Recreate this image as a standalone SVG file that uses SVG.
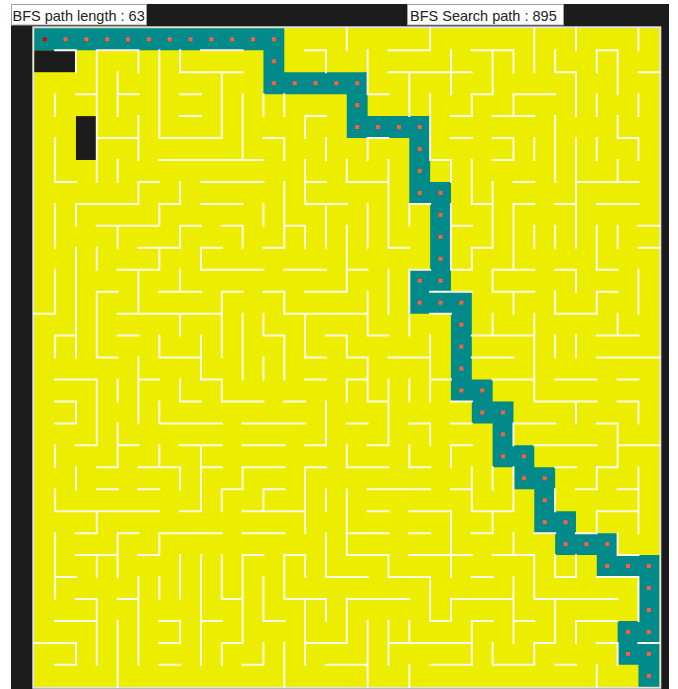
<svg xmlns="http://www.w3.org/2000/svg" width="678" height="689" viewBox="0 0 678 689">
<style>
.lbl{font-family:"Liberation Sans",Arial,sans-serif;font-size:14.5px;fill:#222}
.box{fill:#fff;stroke:#a0a0a0;stroke-width:1}
.wall{fill:none;stroke:#fffbe8;stroke-width:2;vector-effect:non-scaling-stroke;stroke-linecap:square}
.blk{fill:#1c1c1c}
.dot{fill:#ff5f3f}
</style>
<defs><rect id="d" x="0.404" y="0.409" width="0.192" height="0.182"/></defs>
<rect width="678" height="689" fill="#fff"/>
<rect x="11" y="4" width="658" height="685" class="blk"/>
<rect x="33.3" y="27.3" width="627" height="660.5" fill="#eded00" stroke="#e2e2e2" stroke-width="2"/>
<g id="maze" transform="translate(34.3 28.3) scale(20.833 21.95)">
<g id="blocks">
<rect x="0" y="1" width="2" height="1" class="blk"/>
<rect x="2" y="4" width="1" height="2" class="blk"/>
</g>
<path id="route" d="M0.5 0.5H11.5V2.5H15.5V4.5H18.5V7.5H19.5V11.5H18.5V12.5H20.5V16.5H21.5V17.5H22.5V19.5H23.5V20.5H24.5V22.5H25.5V23.5H27.5V24.5H29.5V27.5H28.5V28.5H29.5V29.5" fill="none" stroke="#008a8a" stroke-width="1" stroke-linecap="square" stroke-linejoin="miter"/>
<g id="walls">
<path class="wall" d="M1 1H2M2 1V2M3 1H5M3 1V7M5 1V2M6 1V5M4 2V4M2 3H3M4 3H5M1 3V4M5 4V6M3 5H5M6 5H9M1 5V7M1 7H2M4 6V7M6 6H11M5 7H6M5 7V8M2 8H5M2 8V9M6 8H7M6 8V9M1 8V10M3 9H6M4 9V10
M8 1H10M7 1V2M7 2H10M9 2V5M7 3H8M7 4H8M10 3V6M11 3V4M12 3V4M14 1V2M13 1H14M13 4V5M13 4H14M11 5H12M12 5V6M14 5V6M13 6V8M13 7H14M13 8H15M8 7H11M7 7V8M8 8H10M12 7V10M11 8V9M14 8V10M7 9H8M7 9V10M9 9H10M10 9V10M12 9H13M13 9V10
M15 0V1M19 0V1M17 1H19M16 1V3M16 3H17M17 2H21M18 2V4M20 1V3M21 1H22M22 1V3M19 3V6M19 6H20M20 6V7M20 4H21M21 3V4M21 3H22M22 4H24M16 5H17M16 5V6M20 5H21M22 5H23M15 6V7M15 7H17M17 6V10M21 6V8M22 6H23M22 7V10M16 8V10M18 8H19M18 8V9M21 8H22M20 9H21M20 8V11M21 10H22M21 10V11M20 11H21
M24 0V2M26 0V1M29 0V1M22 1H23M23 1V2M25 1V2M25 2H26M26 2V4M27 1H28M27 1V2M28 1V3M29 2H30M23 3H25M23 3V4M27 3V4M29 3V4M25 4V7M28 4V5M28 5H29M29 5V6M23 5V6M24 5V6M26 5V7M27 5V6M23 7H24M26 7H29M28 6V7M23 8H24M23 8V11M25 8H26M26 7V10M27 8H29M24 9V10M25 9V10M28 9V10M29 9H30M27 9V11
M2 10V15M3 10V11M5 10H7M6 10V11M4 11H6M5 11V13M4 13H6M1 11V13M0 13H1M3 12H4M3 12V15M3 15H4M6 12H8M1 14H2M1 14V15M4 14H5M6 14V15M6 15H8M5 15V18M5 16H6M1 16H3M3 16V19M2 19H3M4 16V17M1 17H2M2 17V18M1 18H2M6 17V18M6 18H9M4 18V20M4 19H5M1 19V20M6 19V20
M11 10H12M8 10H9M8 10V11M8 11H11M12 11H14M7 11V12M9 12H10M9 12V15M11 12H12M12 12V13M12 13H16M13 12H15M6 13H9M7 13V14M10 13V16M11 13V14M11 14H12M12 14V16M13 13V15M13 15H14M14 14H15M8 14V16M8 16H9M9 16V17M9 17H11M11 15V16M7 16V17M7 17H8M13 16H14M12 17H13M14 17V19M13 19H14M10 18H13M7 19H9M8 19V22M10 19H12
M15 9V12M17 10H18M15 11H16M17 11V13M18 11H19M18 11V14M19 12H21M22 11V12M22 11H24M16 12V14M16 14H17M22 13V14M19 13H20M15 14V15M15 15H16M19 14V17M21 14H24M17 15H19M16 15V17M21 15H23M15 16H16M15 16V17M17 16V19M18 16V17M19 16H20M16 17H17M20 17H21M15 18H16M18 18H19M19 18V19M20 18H21M16 19H17M15 19V20M18 19V20M20 19H21M20 19V20
M27 11H28M29 10H30M25 11H26M26 11V12M29 11V13M22 12H24M23 12V13M25 12V13M25 13H27M27 12V13M27 12H28M24 13V17M24 17H27M28 13V14M27 14H29M25 14V15M26 14V15M27 15H30M22 16H24M25 16H27M28 16H29M26 17V18M28 17H29M29 17V18M23 18H25M23 18V19M27 18H28M28 18V20M24 19H27M28 19H30
M3 20H4M5 20H7M2 20V21M3 21H4M5 21H6M1 21V22M1 22H6M3 22V23M2 23H3M4 23H5M4 23V25M6 23H9M6 23V24M5 24H6M1 23V26M1 25H2M2 24H4M3 24V25M5 25V29M4 26H5M6 25V26M2 26H3M3 26V29M1 27H3M4 27V30M6 27H7M0 28H2M2 28V29M1 29H2M6 28H7M6 29H7
M7 22H8M7 20V21M8 20H9M10 20H12M10 20V21M9 21H10M9 21V22M13 20H14M13 20V23M11 21H12M11 21V22M10 22H13M14 21V22M10 23H12M14 23V25M14 25H16M7 24V26M8 24V29M8 27H9M9 24V26M9 26H10M10 24H11M10 24V28M9 28H10M9 28V29M11 25V27M11 27H12M12 24H13M12 24V26M12 26H14M13 24V25M14 26V27M13 26V29M13 28H15M7 27V28M11 28V29M10 29H11M12 28V30M14 29H16
M15 20H17M18 20H19M21 20V22M21 22H22M22 20V21M16 21H19M20 21H21M15 21V24M15 24H17M17 24V25M17 25H19M19 25V27M19 27H20M20 26V27M20 26H22M16 22H17M18 22H20M20 22V25M15 23H17M18 23H19M21 23H22M22 22V23M18 24H21M22 24H24M21 25H22M15 26V28M15 26H18M16 27V30M17 27V29M17 28H21M18 27V28M21 27H22M21 27V29M22 28V29M22 29H24M19 29H21M18 29V30
M23 20V22M25 20H26M27 20H28M27 20V21M26 21H27M28 21H29M29 20V23M22 22H23M25 21V22M27 22H29M27 22V23M24 23H25M26 23H27M28 23V24M23 23V24M24 24V26M24 26H28M25 24V25M25 25H26M26 24V25M28 24H29M27 25H29M29 25V27M23 25V28M22 26H23M23 27H24M25 26V28M24 28H25M24 28V29M26 27H28M26 27V28M27 28H28M29 28H30M25 29H26M27 29V30M28 28V29"/>
</g>
<g id="dots" class="dot">
<use href="#d" x="0" y="0" fill="#e00000"/><use href="#d" x="1" y="0"/><use href="#d" x="2" y="0"/><use href="#d" x="3" y="0"/><use href="#d" x="4" y="0"/><use href="#d" x="5" y="0"/><use href="#d" x="6" y="0"/><use href="#d" x="7" y="0"/><use href="#d" x="8" y="0"/><use href="#d" x="9" y="0"/><use href="#d" x="10" y="0"/><use href="#d" x="11" y="0"/>
<use href="#d" x="11" y="1"/>
<use href="#d" x="11" y="2"/><use href="#d" x="12" y="2"/><use href="#d" x="13" y="2"/><use href="#d" x="14" y="2"/><use href="#d" x="15" y="2"/>
<use href="#d" x="15" y="3"/>
<use href="#d" x="15" y="4"/><use href="#d" x="16" y="4"/><use href="#d" x="17" y="4"/><use href="#d" x="18" y="4"/>
<use href="#d" x="18" y="5"/><use href="#d" x="18" y="6"/>
<use href="#d" x="18" y="7"/><use href="#d" x="19" y="7"/>
<use href="#d" x="19" y="8"/><use href="#d" x="19" y="9"/><use href="#d" x="19" y="10"/>
<use href="#d" x="18" y="11"/><use href="#d" x="19" y="11"/>
<use href="#d" x="18" y="12"/><use href="#d" x="19" y="12"/><use href="#d" x="20" y="12"/>
<use href="#d" x="20" y="13"/><use href="#d" x="20" y="14"/><use href="#d" x="20" y="15"/>
<use href="#d" x="20" y="16"/><use href="#d" x="21" y="16"/>
<use href="#d" x="21" y="17"/><use href="#d" x="22" y="17"/>
<use href="#d" x="22" y="18"/>
<use href="#d" x="22" y="19"/><use href="#d" x="23" y="19"/>
<use href="#d" x="23" y="20"/><use href="#d" x="24" y="20"/>
<use href="#d" x="24" y="21"/>
<use href="#d" x="24" y="22"/><use href="#d" x="25" y="22"/>
<use href="#d" x="25" y="23"/><use href="#d" x="26" y="23"/><use href="#d" x="27" y="23"/>
<use href="#d" x="27" y="24"/><use href="#d" x="28" y="24"/><use href="#d" x="29" y="24"/>
<use href="#d" x="29" y="25"/><use href="#d" x="29" y="26"/>
<use href="#d" x="28" y="27"/><use href="#d" x="29" y="27"/>
<use href="#d" x="28" y="28"/><use href="#d" x="29" y="28"/>
<use href="#d" x="29" y="29"/>
</g>
</g>
<g id="label-length">
<rect class="box" x="11.5" y="4.5" width="135" height="20.5"/>
<text class="lbl" x="12.5" y="20.5">BFS path length : 63</text>
</g>
<g id="label-search">
<rect class="box" x="407.5" y="4.5" width="156" height="20.5"/>
<text class="lbl" x="410" y="20.5">BFS Search path : 895</text>
</g>
</svg>
